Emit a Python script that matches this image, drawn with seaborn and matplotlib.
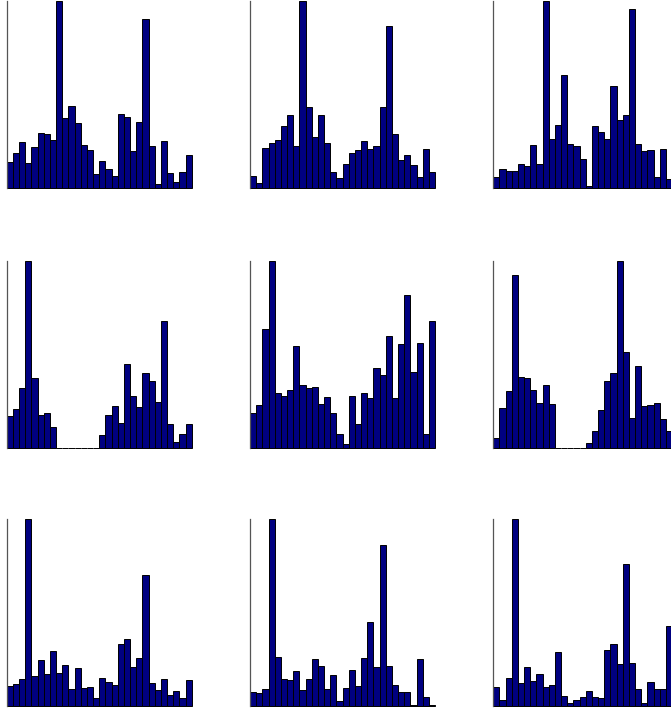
import matplotlib
matplotlib.use("Agg")
import matplotlib.pyplot as plt
import seaborn as sns

sns.set_style("white")

# Bin index shared by every histogram (30 bins)
bins = list(range(1, 31))

# Counts per bin for the nine histograms, row by row
counts_r1c1 = [78, 107, 138, 76, 124, 167, 162, 146, 560, 211, 247, 197, 129, 114, 42,
               81, 57, 38, 223, 214, 113, 198, 508, 128, 14, 143, 47, 19, 50, 99]
counts_r1c2 = [36, 17, 122, 135, 144, 187, 220, 126, 560, 242, 155, 220, 135, 50, 30,
               72, 107, 114, 141, 118, 126, 242, 485, 162, 84, 100, 71, 33, 119, 48]
counts_r1c3 = [34, 58, 53, 53, 72, 68, 131, 73, 560, 149, 191, 339, 134, 128, 89,
               6, 186, 168, 149, 305, 204, 220, 538, 133, 113, 116, 34, 118, 29, 60]
counts_r2c1 = [96, 116, 178, 562, 208, 97, 103, 63, 0, 0, 0, 0, 0, 0, 0,
               39, 97, 125, 75, 251, 156, 121, 226, 200, 137, 380, 72, 18, 42, 70]
counts_r2c2 = [103, 128, 357, 562, 163, 155, 173, 306, 187, 179, 183, 131, 151, 103, 40,
               11, 154, 72, 163, 150, 241, 219, 337, 150, 311, 460, 229, 314, 41, 380]
counts_r2c3 = [30, 119, 169, 520, 211, 210, 173, 135, 189, 132, 0, 0, 0, 0, 0,
               15, 50, 114, 199, 226, 562, 288, 90, 245, 126, 129, 133, 86, 51, 40]
counts_r3c1 = [60, 68, 81, 559, 91, 138, 97, 165, 99, 123, 51, 114, 56, 58, 26,
               84, 72, 64, 185, 202, 116, 143, 392, 69, 49, 81, 35, 45, 25, 79]
counts_r3c2 = [42, 39, 51, 559, 146, 83, 80, 106, 49, 83, 142, 119, 53, 95, 15,
               54, 108, 61, 143, 252, 116, 483, 120, 63, 44, 42, 3, 142, 28, 3]
counts_r3c3 = [58, 20, 84, 559, 69, 116, 76, 98, 59, 64, 163, 32, 10, 19, 28,
               47, 29, 24, 168, 187, 126, 426, 128, 53, 10, 72, 51, 51, 240, 50]

panels = [
    [counts_r1c1, counts_r1c2, counts_r1c3],
    [counts_r2c1, counts_r2c2, counts_r2c3],
    [counts_r3c1, counts_r3c2, counts_r3c3],
]

W, H = 671, 710
fig = plt.figure(figsize=(W / 100, H / 100), dpi=100)

col_left = [6.7, 250.0, 493.3]      # pixel x of each column's left edge
row_bottom = [188.3, 447.7, 706.3]  # pixel y of each row's baseline
ax_w, ax_h = 185.0, 187.0

for r, row in enumerate(panels):
    for c, counts in enumerate(row):
        ax = fig.add_axes([col_left[c] / W, (H - row_bottom[r]) / H, ax_w / W, ax_h / H])
        sns.barplot(x=bins, y=counts, ax=ax, color="#000080", saturation=1,
                    width=1.0, edgecolor="black", linewidth=0.7)
        # keep the bar outlines at the baseline visible (empty bins show as a flat edge)
        for patch in ax.patches:
            patch.set_clip_on(False)
        ax.set_xlim(-0.5, len(bins) - 0.5)
        ax.set_ylim(0, max(counts))
        ax.set_xticks([])
        ax.set_yticks([])
        ax.set_xlabel("")
        ax.set_ylabel("")
        for side in ("top", "right", "bottom"):
            ax.spines[side].set_visible(False)
        ax.spines["left"].set_color("#555555")
        ax.spines["left"].set_linewidth(0.9)
        ax.patch.set_alpha(0)

fig.savefig("out.png", dpi=100)
